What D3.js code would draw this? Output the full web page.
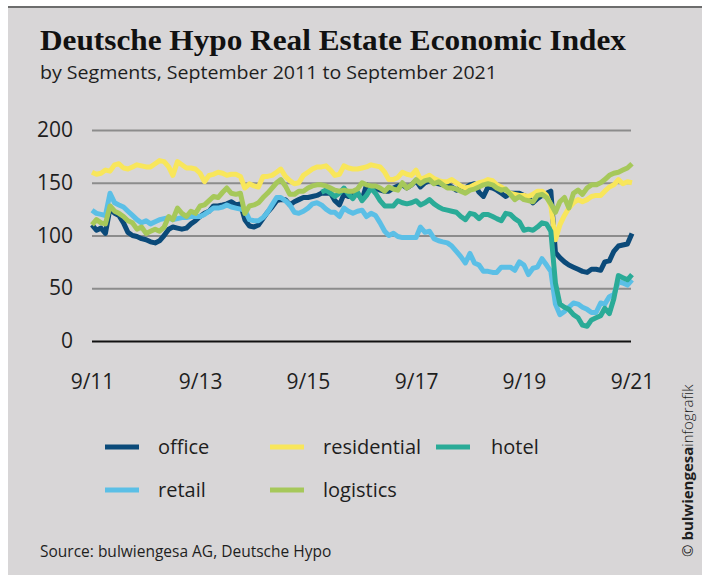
<!DOCTYPE html>
<html>
<head>
<meta charset="utf-8">
<script src="https://cdn.jsdelivr.net/npm/d3@7"></script>
<style>
  body { margin: 0; background: #fff; overflow: hidden; }
  svg { display: block; }
  svg text { font-family: 'Open Sans', sans-serif; fill: #1e1e1e; }
</style>
</head>
<body>
<svg width="707" height="575"></svg>
<script>
// monthly index values, 9/2011 .. 9/2021 (121 months)
const office = [
  110,105,107,102,126,121,119,112,103,100,
  99,97,96,94,93,95,100,106,108,107,
  106,107,111,114,118,121,123,128,128,129,
  130,132,129,130,115,109,108,110,116,122,
  127,133,134,134,129,132,134,136,136,137,
  138,140,140,140,133,129,139,137,138,140,
  134,148,146,145,143,142,142,145,147,148,
  145,148,152,146,150,152,150,149,148,148,
  146,143,146,145,148,149,141,137,146,145,
  143,140,137,140,140,140,138,136,131,135,
  138,140,142,84,79,75,72,70,68,66,
  65,68,68,67,75,76,85,90,91,92,
  102];
const residential = [
  160,158,159,162,161,167,168,164,163,165,
  167,166,165,165,168,171,170,165,157,170,
  167,164,164,163,159,151,157,158,160,159,
  157,158,158,156,145,149,147,146,156,156,
  157,160,163,156,152,149,150,157,160,163,
  165,165,166,162,157,158,166,164,163,163,
  164,165,167,166,165,160,153,153,155,160,
  158,157,162,153,155,157,154,152,151,151,
  153,150,147,145,146,148,150,151,153,152,
  148,146,143,140,139,138,138,137,139,142,
  142,138,128,96,110,119,126,131,134,132,
  134,137,138,138,142,146,148,153,149,151,
  150];
const retail = [
  124,121,120,119,140,131,129,127,123,119,
  115,112,114,111,113,115,116,117,115,116,
  117,117,118,118,118,120,123,126,126,127,
  129,127,126,125,124,115,114,114,117,122,
  129,136,136,133,129,122,121,123,126,130,
  131,129,125,122,122,118,126,123,121,123,
  124,118,121,119,112,104,100,102,99,98,
  98,98,98,108,103,104,97,95,94,93,
  90,85,80,74,83,74,72,66,66,65,
  65,70,70,70,67,75,72,63,69,70,
  78,72,66,35,25,28,32,36,35,32,
  30,27,27,36,35,42,44,56,55,53,
  58];
// hotel series begins in month 51 (12/2015)
const hotelStart = 51;
const hotel = [
  141,143,140,137,140,145,139,135,141,
  133,138,145,140,133,128,128,128,133,131,
  130,131,133,129,131,134,130,127,125,124,
  123,122,118,115,121,120,116,120,120,118,
  116,114,121,120,116,113,105,106,105,108,
  112,111,104,55,35,32,30,25,22,15,
  14,20,22,24,31,26,40,62,60,58,
  63];
const logistics = [
  110,115,112,111,128,123,121,118,114,112,
  106,108,102,104,106,104,108,118,115,126,
  121,118,123,121,128,129,133,137,136,141,
  145,140,139,140,121,128,129,131,136,140,
  145,150,153,147,139,139,142,142,145,147,
  148,148,147,145,143,142,143,142,142,144,
  150,148,147,147,145,142,146,144,143,150,
  145,148,153,149,152,153,149,151,148,145,
  145,144,142,140,143,144,146,148,149,148,
  145,143,144,139,134,137,134,133,132,138,
  139,136,130,122,132,136,126,140,143,139,
  145,148,148,150,153,157,159,160,162,164,
  168];

const yTicks = [0, 50, 100, 150, 200];
const xTickLabels = ['9/11', '9/13', '9/15', '9/17', '9/19', '9/21'];

const svg = d3.select('svg');
const start = new Date(2011, 8, 1);
const monthDate = i => d3.timeMonth.offset(start, i);

// background panel
svg.append('rect').attr('x', 8).attr('y', 7).attr('width', 694).attr('height', 568).attr('fill', '#d8d6d7');
svg.append('line').attr('x1', 8).attr('x2', 702).attr('y1', 7).attr('y2', 7)
  .attr('stroke', '#6d6d6d').attr('stroke-width', 2);

svg.append('text').attr('x', 40).attr('y', 50)
  .style('font-family', "'Liberation Serif', serif").style('font-weight', 'bold').style('font-size', '29px')
  .attr('textLength', 586).attr('lengthAdjust', 'spacingAndGlyphs')
  .style('fill', '#111')
  .text('Deutsche Hypo Real Estate Economic Index');
svg.append('text').attr('x', 40).attr('y', 79).style('font-size', '18px')
  .attr('textLength', 457).attr('lengthAdjust', 'spacingAndGlyphs')
  .text('by Segments, September 2011 to September 2021');

const margin = { left: 92, top: 130 };
const innerWidth = 540, innerHeight = 211;
const g = svg.append('g').attr('transform', `translate(${margin.left},${margin.top})`);

const x = d3.scaleTime().domain([start, monthDate(120)]).range([0, innerWidth]);
const y = d3.scaleLinear().domain([0, 200]).range([innerHeight, 0]);

const yAxisG = g.append('g').call(d3.axisLeft(y).tickValues(yTicks).tickSize(-innerWidth + 1).tickPadding(19));
yAxisG.select('.domain').remove();
yAxisG.selectAll('.tick line').attr('stroke', d => d === 0 ? '#111' : '#8c8c8c').attr('stroke-width', 2);
yAxisG.selectAll('.tick text').style('font-size', '21px').style('font-family', "'Open Sans', sans-serif").attr('fill', '#1e1e1e');

const xAxisG = g.append('g').attr('transform', `translate(0,${innerHeight})`)
  .call(d3.axisBottom(x).tickValues(xTickLabels.map((t, i) => monthDate(i * 24)))
    .tickFormat((d, i) => xTickLabels[i]).tickSize(0).tickPadding(33));
xAxisG.select('.domain').remove();
xAxisG.selectAll('.tick text').style('font-size', '21px').style('font-family', "'Open Sans', sans-serif").attr('fill', '#1e1e1e');

const series = [
  { name: 'office', values: office, offset: 0, color: '#0b4a79' },
  { name: 'retail', values: retail, offset: 0, color: '#5bbfe6' },
  { name: 'residential', values: residential, offset: 0, color: '#f8e65b' },
  { name: 'hotel', values: hotel, offset: hotelStart, color: '#2aab97' },
  { name: 'logistics', values: logistics, offset: 0, color: '#a6c85a' }
];

const line = d3.line()
  .x(d => x(monthDate(d.m)))
  .y(d => y(d.v));

series.forEach(s => {
  g.append('path')
    .datum(s.values.map((v, i) => ({ m: i + s.offset, v })))
    .attr('fill', 'none')
    .attr('stroke', s.color)
    .attr('stroke-width', 5)
    .attr('stroke-linejoin', 'round')
    .attr('d', line);
});

// legend
const legendItems = [
  { name: 'office', color: '#0b4a79', lx: 105, tx: 158, ly: 447 },
  { name: 'residential', color: '#f8e65b', lx: 270, tx: 323, ly: 447 },
  { name: 'hotel', color: '#2aab97', lx: 436, tx: 491, ly: 447 },
  { name: 'retail', color: '#5bbfe6', lx: 105, tx: 158, ly: 490 },
  { name: 'logistics', color: '#a6c85a', lx: 270, tx: 323, ly: 490 }
];
const lg = svg.append('g');
legendItems.forEach(d => {
  lg.append('line').attr('x1', d.lx).attr('x2', d.lx + 34).attr('y1', d.ly).attr('y2', d.ly)
    .attr('stroke', d.color).attr('stroke-width', 5);
  lg.append('text').attr('x', d.tx).attr('y', d.ly).attr('dy', '0.35em')
    .style('font-size', '20px').text(d.name);
});

svg.append('text').attr('x', 40).attr('y', 557).style('font-size', '15.5px')
  .text('Source: bulwiengesa AG, Deutsche Hypo');

const cr = svg.append('text').attr('transform', 'translate(693,557) rotate(-90)').style('font-size', '15px');
cr.append('tspan').text('© ');
cr.append('tspan').style('font-weight', 'bold').text('bulwiengesa');
cr.append('tspan').style('font-weight', '300').text('infografik');
</script>
</body>
</html>
